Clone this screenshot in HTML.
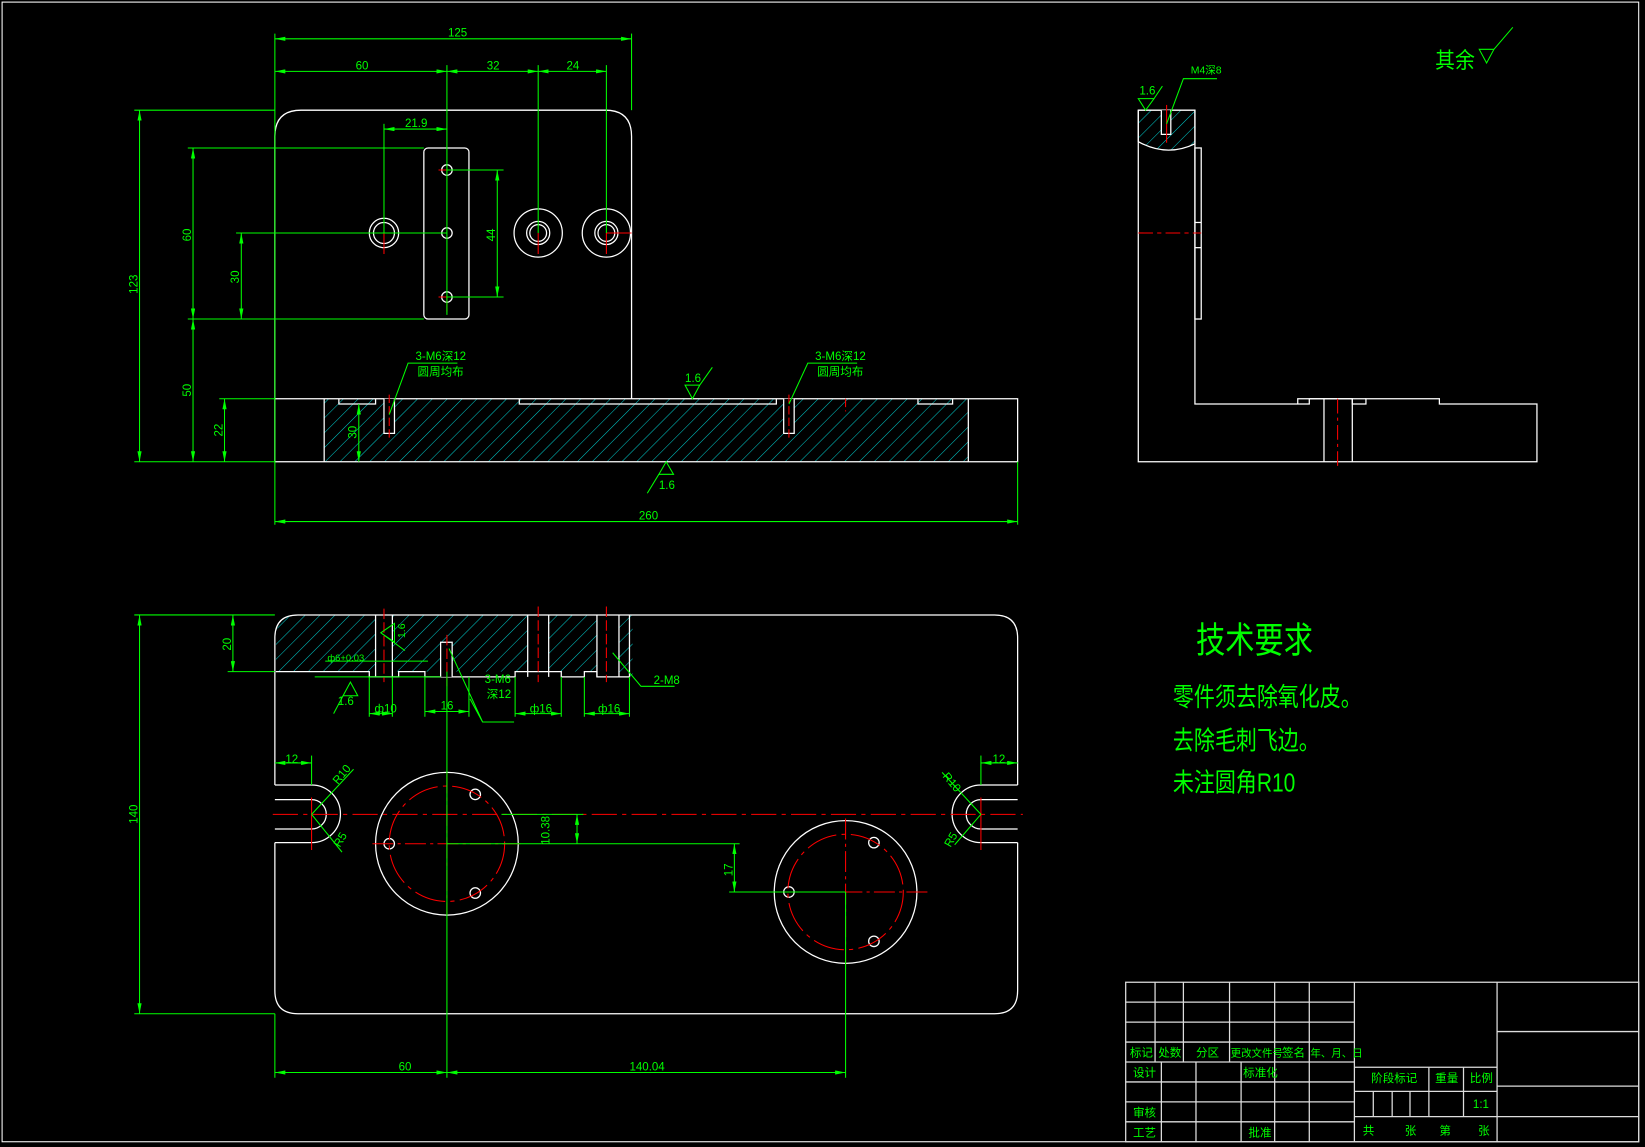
<!DOCTYPE html>
<html><head><meta charset="utf-8"><style>
html,body{margin:0;padding:0;background:#000;}
svg{display:block;}
text{font-family:"Liberation Sans","Noto Sans CJK SC",sans-serif;fill:#00ff00;}
</style></head><body>
<svg width="1645" height="1147" viewBox="0 0 1568 1093" preserveAspectRatio="none" xmlns="http://www.w3.org/2000/svg">
<defs>
<pattern id="h" width="10" height="10" patternUnits="userSpaceOnUse" patternTransform="rotate(45)">
<line x1="0" y1="0" x2="0" y2="10" stroke="#00c8c8" stroke-width="1"/>
</pattern>
<marker id="a" viewBox="0 0 10 4" refX="10" refY="2" markerWidth="10" markerHeight="4" orient="auto-start-reverse" markerUnits="userSpaceOnUse"><path d="M0,0 L10,2 L0,4z" fill="#0f0"/></marker>
</defs>
<rect x="0" y="0" width="1568" height="1093" fill="#000"/>
<rect x="2" y="2" width="1560" height="1086" fill="none" stroke="#fff" stroke-width="1"/>

<!-- ===== FRONT VIEW ===== -->
<g fill="none" stroke="#fff" stroke-width="1.2">
<rect x="309" y="380" width="614" height="60" fill="url(#h)" stroke="none"/>
<path d="M262,440 V130 Q262,105 287,105 H577 Q602,105 602,130 V380"/>
<path d="M262,380 H970 V440 H262"/>
<line x1="309" y1="380" x2="309" y2="440"/>
<line x1="923" y1="380" x2="923" y2="440"/>
<path d="M323,380 V385 H358 V380 M495,380 V385 H740 V380 M875,380 V385 H908 V380"/>
<rect x="404" y="141" width="43" height="163" rx="4"/>
<circle cx="426" cy="162" r="5"/><circle cx="426" cy="222" r="5"/><circle cx="426" cy="283" r="5"/>
<circle cx="366" cy="222" r="14"/><circle cx="366" cy="222" r="10"/>
<circle cx="513" cy="222" r="23"/><circle cx="513" cy="222" r="11"/><circle cx="513" cy="222" r="8"/>
<circle cx="578" cy="222" r="23"/><circle cx="578" cy="222" r="11"/><circle cx="578" cy="222" r="8"/>
<path d="M366,380 V413 H376 V380 M747,380 V413 H757 V380" fill="#000"/>
</g>
<g stroke="#f00" stroke-width="1" fill="none">
<path d="M418,162 H434 M418,283 H434 M426,283 V297 M366,222 V242 M513,222 V242 M578,222 V242 M578,222 H602"/>
<path d="M371,376 V420 M752,376 V420 M806,380 V392" stroke-dasharray="8,3"/>
</g>
<g stroke="#0f0" stroke-width="1" fill="none">
<line x1="262" y1="32" x2="262" y2="500"/><line x1="602" y1="32" x2="602" y2="105"/>
<line x1="970" y1="440" x2="970" y2="500"/>
<line x1="426" y1="62" x2="426" y2="300"/><line x1="513" y1="62" x2="513" y2="222"/><line x1="578" y1="62" x2="578" y2="222"/>
<line x1="262" y1="37" x2="602" y2="37" marker-start="url(#a)" marker-end="url(#a)"/>
<line x1="262" y1="68" x2="426" y2="68" marker-start="url(#a)" marker-end="url(#a)"/>
<line x1="426" y1="68" x2="513" y2="68" marker-start="url(#a)" marker-end="url(#a)"/>
<line x1="513" y1="68" x2="578" y2="68" marker-start="url(#a)" marker-end="url(#a)"/>
<line x1="366" y1="123" x2="426" y2="123" marker-start="url(#a)" marker-end="url(#a)"/>
<line x1="366" y1="118" x2="366" y2="222"/>
<line x1="262" y1="497" x2="970" y2="497" marker-start="url(#a)" marker-end="url(#a)"/>
<line x1="128" y1="105" x2="262" y2="105"/><line x1="128" y1="440" x2="262" y2="440"/>
<line x1="179" y1="141" x2="404" y2="141"/><line x1="179" y1="304" x2="404" y2="304"/>
<line x1="225" y1="222" x2="426" y2="222"/>
<line x1="209" y1="380" x2="262" y2="380"/>
<line x1="426" y1="162" x2="480" y2="162"/><line x1="426" y1="283" x2="480" y2="283"/>
<line x1="133" y1="105" x2="133" y2="440" marker-start="url(#a)" marker-end="url(#a)"/>
<line x1="184" y1="141" x2="184" y2="304" marker-start="url(#a)" marker-end="url(#a)"/>
<line x1="184" y1="304" x2="184" y2="440" marker-start="url(#a)" marker-end="url(#a)"/>
<line x1="230" y1="222" x2="230" y2="304" marker-start="url(#a)" marker-end="url(#a)"/>
<line x1="214" y1="380" x2="214" y2="440" marker-start="url(#a)" marker-end="url(#a)"/>
<line x1="474" y1="162" x2="474" y2="283" marker-start="url(#a)" marker-end="url(#a)"/>
<line x1="342" y1="385" x2="342" y2="440" marker-start="url(#a)" marker-end="url(#a)"/>
<path d="M371,395 L389,346 H436"/><path d="M752,385 L770,346 H817"/>
<path d="M653,367 H667 L660,380 Z M667,367 L679,350"/>
<path d="M628,452 L635,440 L642,452 Z M628,452 L617,470"/>
</g>
<g font-size="11">
<text x="427" y="35">125</text><text x="339" y="66">60</text><text x="464" y="66">32</text><text x="540" y="66">24</text>
<text x="386" y="121">21.9</text><text x="609" y="495">260</text>
<text x="396" y="343">3-M6深12</text><text x="398" y="358">圆周均布</text>
<text x="777" y="343">3-M6深12</text><text x="779" y="358">圆周均布</text>
<text x="653" y="364">1.6</text><text x="628" y="466">1.6</text>
<text transform="translate(131,280) rotate(-90)">123</text>
<text transform="translate(182,230) rotate(-90)">60</text>
<text transform="translate(182,378) rotate(-90)">50</text>
<text transform="translate(228,270) rotate(-90)">30</text>
<text transform="translate(212,416) rotate(-90)">22</text>
<text transform="translate(472,230) rotate(-90)">44</text>
<text transform="translate(340,418) rotate(-90)">30</text>
</g>

<!-- ===== SIDE VIEW ===== -->
<g fill="none" stroke="#fff" stroke-width="1.2">
<path d="M1085,105 H1139 V137 Q1112,150 1085,135 Z" fill="url(#h)"/>
<path d="M1085,105 V440 H1465 V385 H1372 V380 H1302 V385 H1289 V380 H1248 V385 H1237 V380 H1249 M1237,385 H1139 V105"/>
<rect x="1139" y="141" width="6" height="163"/>
<line x1="1139" y1="212" x2="1145" y2="212"/><line x1="1139" y1="236" x2="1145" y2="236"/>
<line x1="1262" y1="380" x2="1262" y2="440"/><line x1="1289" y1="380" x2="1289" y2="440"/>
<line x1="1248" y1="380" x2="1302" y2="380"/>
<path d="M1107,105 V128 H1116 V105" fill="#000"/>
</g>
<g stroke="#f00" stroke-width="1"><line x1="1112" y1="100" x2="1112" y2="136"/>
<line x1="1085" y1="222" x2="1145" y2="222" stroke-dasharray="14,4,4,4"/>
<line x1="1275" y1="380" x2="1275" y2="448" stroke-dasharray="14,4,3,4"/></g>
<g stroke="#0f0" stroke-width="1" fill="none">
<path d="M1085,94 H1100 L1092,105 Z M1100,94 L1108,82"/>
<path d="M1112,118 L1128,75 H1160"/>
<path d="M1410,47 H1424 L1417,60 Z M1424,47 L1442,26"/>
</g>
<text x="1086" y="90" font-size="11">1.6</text>
<text x="1135" y="70" font-size="10">M4深8</text>
<text x="1368" y="65" font-size="21" transform="translate(1368,0) scale(0.9,1) translate(-1368,0)">其余</text>

<!-- ===== BOTTOM VIEW ===== -->
<g fill="none" stroke="#fff" stroke-width="1.2">
<path d="M263,640 V608 Q263,586 285,586 H358 V640 Z" fill="url(#h)" stroke="none"/>
<rect x="374" y="586" width="129" height="54" fill="url(#h)" stroke="none"/>
<rect x="523" y="586" width="46" height="54" fill="url(#h)" stroke="none"/>
<rect x="590" y="586" width="13" height="59" fill="url(#h)" stroke="none"/>
<path d="M262,748 V608 Q262,586 284,586 H948 Q970,586 970,608 V748"/>
<path d="M970,803 V944 Q970,966 948,966 H284 Q262,966 262,944 V803"/>
<path d="M262,748 H297 A27,27 0 0 1 297,803 H262 M262,762 H297 A14,14 0 0 1 297,790 H262"/>
<path d="M970,748 H935 A27,27 0 0 0 935,803 H970 M970,762 H935 A14,14 0 0 0 935,790 H970"/>
<path d="M263,640 H352 V645 H380 V640 H405 V645 H491 V640 H535 V645 H557 V640 H569 V645 H600 V586"/>
<path d="M358,586 V645 M374,586 V645 M503,586 V645 M523,586 V645 M569,586 V645 M590,586 V645"/>
<path d="M420,645 V612 H431 V645" fill="#000"/>
<circle cx="426" cy="804" r="68"/><circle cx="806" cy="850" r="68"/>
<circle cx="453" cy="757" r="5"/><circle cx="453" cy="851" r="5"/><circle cx="371" cy="804" r="5"/>
<circle cx="833" cy="803" r="5"/><circle cx="833" cy="897" r="5"/><circle cx="752" cy="850" r="5"/>
</g>
<g stroke="#f00" stroke-width="1" fill="none">
<line x1="260" y1="776" x2="975" y2="776" stroke-dasharray="24,5,4,5"/>
<circle cx="426" cy="804" r="55" stroke-dasharray="30,5,4,5"/>
<circle cx="806" cy="850" r="55" stroke-dasharray="30,5,4,5"/>
<line x1="426" y1="736" x2="426" y2="872" stroke-dasharray="20,4,3,4"/>
<line x1="355" y1="804" x2="496" y2="804" stroke-dasharray="20,4,3,4"/>
<line x1="806" y1="780" x2="806" y2="920" stroke-dasharray="20,4,3,4"/>
<line x1="740" y1="850" x2="885" y2="850" stroke-dasharray="20,4,3,4"/>
<path d="M297,760 V810 M935,760 V810"/>
<path d="M366,580 V650 M513,578 V650 M578,578 V650 M426,605 V655" stroke-dasharray="10,3"/>
</g>
<g stroke="#0f0" stroke-width="1" fill="none">
<line x1="128" y1="586" x2="262" y2="586"/><line x1="128" y1="966" x2="262" y2="966"/>
<line x1="133" y1="586" x2="133" y2="966" marker-start="url(#a)" marker-end="url(#a)"/>
<line x1="217" y1="640" x2="262" y2="640"/>
<line x1="222" y1="586" x2="222" y2="640" marker-start="url(#a)" marker-end="url(#a)"/>
<line x1="262" y1="966" x2="262" y2="1027"/><line x1="426" y1="640" x2="426" y2="1027"/><line x1="806" y1="850" x2="806" y2="1027"/>
<line x1="262" y1="1022" x2="426" y2="1022" marker-start="url(#a)" marker-end="url(#a)"/>
<line x1="426" y1="1022" x2="806" y2="1022" marker-start="url(#a)" marker-end="url(#a)"/>
<line x1="426" y1="804" x2="705" y2="804"/><line x1="695" y1="850" x2="806" y2="850"/>
<line x1="700" y1="804" x2="700" y2="850" marker-start="url(#a)" marker-end="url(#a)"/>
<line x1="478" y1="776" x2="556" y2="776"/>
<line x1="550" y1="776" x2="550" y2="804" marker-start="url(#a)" marker-end="url(#a)"/>
<line x1="262" y1="727" x2="297" y2="727" marker-start="url(#a)" marker-end="url(#a)"/><line x1="297" y1="720" x2="297" y2="748"/>
<line x1="935" y1="727" x2="970" y2="727" marker-start="url(#a)" marker-end="url(#a)"/><line x1="935" y1="720" x2="935" y2="748"/>
<path d="M297,776 L337,733 M297,776 L326,812 M935,776 L898,736 M935,776 L910,805"/>
<path d="M352,645 V683 M374,645 V683 M405,645 V683 M447,645 V683 M491,645 V683 M535,645 V683 M557,645 V683 M600,645 V683"/>
<line x1="352" y1="680" x2="374" y2="680" marker-start="url(#a)" marker-end="url(#a)"/>
<line x1="405" y1="678" x2="447" y2="678" marker-start="url(#a)" marker-end="url(#a)"/>
<line x1="491" y1="680" x2="535" y2="680" marker-start="url(#a)" marker-end="url(#a)"/>
<line x1="557" y1="680" x2="600" y2="680" marker-start="url(#a)" marker-end="url(#a)"/>
<path d="M327,663 H341 L334,650 Z M327,663 L318,680 M300,645 H420"/>
<path d="M310,630 H408"/>
<path d="M376,594 V612 L363,603 Z M363,603 L386,620"/>
<path d="M448,666 L460,688 H490 M428,618 L460,688"/>
<path d="M584,622 L611,654 H643"/>
</g>
<g font-size="11">
<text transform="translate(220,620) rotate(-90)">20</text>
<text transform="translate(131,785) rotate(-90)">140</text>
<text x="380" y="1020">60</text><text x="600" y="1020">140.04</text>
<text transform="translate(698,835) rotate(-90)">17</text>
<text transform="translate(524,805) rotate(-90)">10.38</text>
<text x="272" y="727">12</text><text x="946" y="727">12</text>
<text transform="translate(322,748) rotate(-50)">R10</text>
<text transform="translate(324,808) rotate(-60)">R5</text>
<text transform="translate(898,740) rotate(50)">R10</text>
<text transform="translate(906,808) rotate(-60)">R5</text>
<text x="357" y="679">ф10</text><text x="420" y="676">16</text><text x="505" y="679">ф16</text><text x="570" y="679">ф16</text>
<text x="322" y="672">1.6</text>
<text x="312" y="630" font-size="9">ф6+0.03</text>
<text x="462" y="651">3-M6</text><text x="464" y="665">深12</text>
<text x="623" y="652">2-M8</text>
<text transform="translate(386,608) rotate(-90)" font-size="10">1.6</text>
</g>

<!-- ===== TECH REQUIREMENTS ===== -->
<g transform="translate(1140,622) scale(0.82,1)"><text x="0" y="0" font-size="34">技术要求</text></g>
<g transform="translate(1118,673) scale(0.8,1)"><text x="0" y="0" font-size="25">零件须去除氧化皮。</text></g>
<g transform="translate(1118,714) scale(0.8,1)"><text x="0" y="0" font-size="25">去除毛刺飞边。</text></g>
<g transform="translate(1118,754) scale(0.8,1)"><text x="0" y="0" font-size="25">未注圆角R10</text></g>

<!-- ===== TITLE BLOCK ===== -->
<g stroke="#ddd" stroke-width="1.2" fill="none">
<rect x="1073" y="936" width="489" height="152"/>
<path d="M1073,955 H1291 M1073,974 H1291 M1073,993 H1291 M1073,1012 H1291 M1073,1031 H1291 M1073,1050 H1291 M1073,1069 H1291"/>
<path d="M1101,936 V1012 M1128,936 V1012 M1172,936 V1012 M1215,936 V1088 M1248,936 V1088 M1291,936 V1088"/>
<path d="M1107,1012 V1088 M1140,1012 V1088 M1183,1012 V1088"/>
<path d="M1427,936 V1088 M1291,1017 H1427 M1291,1040 H1427 M1291,1064 H1562"/>
<path d="M1362,1017 V1064 M1395,1017 V1064 M1309,1040 V1064 M1327,1040 V1064 M1344,1040 V1064"/>
<path d="M1427,983 H1562 M1427,1035 H1562"/>
</g>
<g font-size="11">
<text x="1077" y="1007">标记</text><text x="1104" y="1007">处数</text><text x="1140" y="1007">分区</text>
<text x="1173" y="1007" font-size="10">更改文件号</text><text x="1222" y="1007">签名</text><text x="1249" y="1007" font-size="10">年、月、日</text>
<text x="1080" y="1026">设计</text><text x="1185" y="1026">标准化</text>
<text x="1080" y="1064">审核</text><text x="1080" y="1083">工艺</text><text x="1190" y="1083">批准</text>
<text x="1307" y="1031">阶段标记</text><text x="1368" y="1031">重量</text><text x="1401" y="1031">比例</text>
<text x="1404" y="1056">1:1</text>
<text x="1299" y="1081">共</text><text x="1339" y="1081">张</text><text x="1372" y="1081">第</text><text x="1409" y="1081">张</text>
</g>
</svg>
</body></html>
